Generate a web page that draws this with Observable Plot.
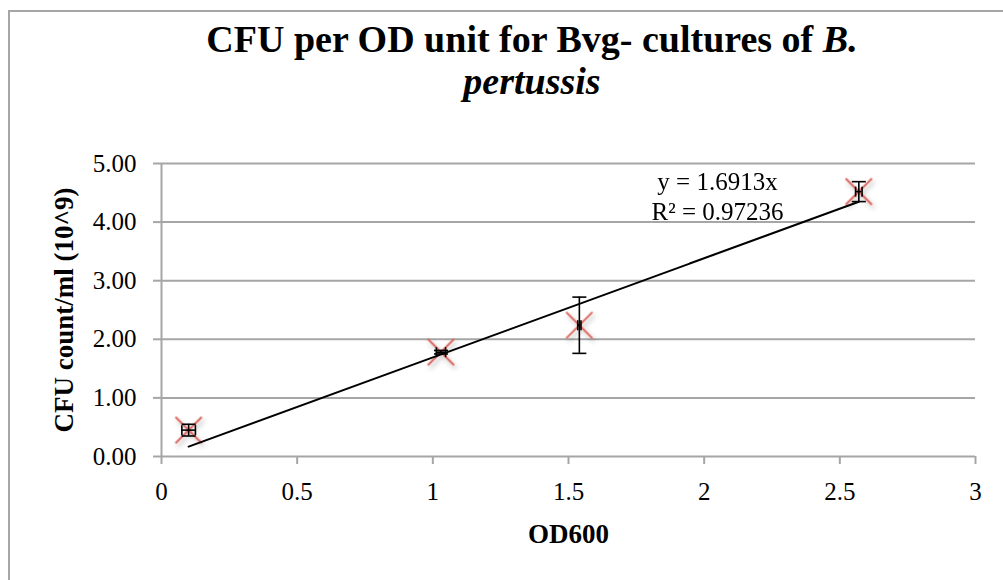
<!DOCTYPE html>
<html><head><meta charset="utf-8">
<script src="https://cdn.jsdelivr.net/npm/d3@7"></script>
<script src="https://cdn.jsdelivr.net/npm/@observablehq/plot@0.6"></script>
<style>
body{margin:0;background:#fff;overflow:hidden}
#wrap{position:relative;width:1003px;height:580px;overflow:hidden;font-family:"Liberation Serif",serif;background:#fff}
#frame{position:absolute;left:8px;top:10px;width:1100px;height:700px;border-left:2px solid #a6a6a6;border-top:2px solid #a6a6a6}
#title{position:absolute;left:0;top:18px;width:1064px;text-align:center;font-weight:bold;font-size:38px;line-height:42px;color:#000}
#chart{position:absolute;left:0;top:0}
</style></head><body>
<div id="wrap"><div id="frame"></div><div id="chart"></div><div id="title">CFU per OD unit for Bvg- cultures of <i>B.</i><br><i>pertussis</i></div></div>
<script>
// Data
const od600   = [0.10, 1.03, 1.54, 2.57];
const cfu     = [0.45, 1.78, 2.24, 4.52];
const cfuErr  = [0.10, 0.03, 0.48, 0.17];
const odErr   = [0.025, 0.017, 0.006, 0.012];
const xTicks  = [0, 0.5, 1, 1.5, 2, 2.5, 3];
const yTicks  = [0, 1, 2, 3, 4, 5];
const trendSlope = 1.6913;
const trendR2 = 0.97236;
const xLabel = "OD600";
const yLabel = "CFU count/ml (10^9)";

const data = od600.map((x, i) => ({x, y: cfu[i], ey: cfuErr[i], ex: odErr[i]}));
const trend = [d3.min(od600), d3.max(od600)].map(x => ({x, y: trendSlope * x}));

const hCap = {draw(ctx, size){const r = Math.sqrt(size/Math.PI); ctx.moveTo(-r,0); ctx.lineTo(r,0);}};
const vCap = {draw(ctx, size){const r = Math.sqrt(size/Math.PI); ctx.moveTo(0,-r); ctx.lineTo(0,r);}};
const GRAY = "#a6a6a6", RED = "#d9655e";

const chart = Plot.plot({
  width: 1003, height: 580,
  marginLeft: 161, marginRight: 28, marginTop: 163, marginBottom: 124,
  style: {fontFamily: "Liberation Serif", fontSize: "25px", color: "black", background: "transparent"},
  x: {domain: [0, 3]},
  y: {domain: [0, 5]},
  marks: [
    Plot.gridY(yTicks, {stroke: GRAY, strokeOpacity: 1, strokeWidth: 2}),
    Plot.ruleX([0], {stroke: GRAY, strokeWidth: 2}),
    Plot.axisY(yTicks, {tickFormat: d => d.toFixed(2), tickSize: 8, tickPadding: 17, stroke: GRAY, strokeWidth: 2, fill: "black", fontSize: 25, label: null}),
    Plot.axisX(xTicks, {tickFormat: d => String(d), tickSize: 8, tickPadding: 18, stroke: GRAY, strokeWidth: 2, fill: "black", fontSize: 25, label: null}),
    Plot.dot(data, {x: "x", y: "y", symbol: "times", r: 12, stroke: RED, strokeWidth: 2, fill: "none"}),
    Plot.ruleX(data, {x: "x", y1: d => d.y - d.ey, y2: d => d.y + d.ey, stroke: "black", strokeWidth: 1.6}),
    Plot.dot(data, {x: "x", y: d => d.y - d.ey, symbol: hCap, r: 7, stroke: "black", strokeWidth: 1.6, fill: "none"}),
    Plot.dot(data, {x: "x", y: d => d.y + d.ey, symbol: hCap, r: 7, stroke: "black", strokeWidth: 1.6, fill: "none"}),
    Plot.ruleY(data, {y: "y", x1: d => d.x - d.ex, x2: d => d.x + d.ex, stroke: "black", strokeWidth: 1.6}),
    Plot.dot(data, {x: d => d.x - d.ex, y: "y", symbol: vCap, r: 5, stroke: "black", strokeWidth: 1.6, fill: "none"}),
    Plot.dot(data, {x: d => d.x + d.ex, y: "y", symbol: vCap, r: 5, stroke: "black", strokeWidth: 1.6, fill: "none"}),
    Plot.line(trend, {x: "x", y: "y", stroke: "black", strokeWidth: 2}),
    Plot.text([`y = ${trendSlope}x\nR² = ${trendR2}`], {text: d => d, frameAnchor: "top-left", dx: 556, dy: 5, textAnchor: "middle", lineAnchor: "top", lineHeight: 1.2, fontSize: 25, fill: "black"}),
    Plot.text([xLabel], {text: d => d, frameAnchor: "bottom", dy: 67, lineAnchor: "top", fontSize: 27, fontWeight: "bold", fill: "black"}),
    Plot.text([yLabel], {text: d => d, frameAnchor: "left", dx: -89, rotate: -90, textAnchor: "middle", lineAnchor: "bottom", fontSize: 27, fontWeight: "bold", fill: "black"})
  ]
});
document.getElementById("chart").appendChild(chart);

// soft shadow under the markers
const svg = d3.select(chart);
const defs = svg.insert("defs", ":first-child");
defs.append("filter").attr("id", "sh").attr("x", "-50%").attr("y", "-50%").attr("width", "200%").attr("height", "200%")
  .append("feDropShadow").attr("dx", 2).attr("dy", 3).attr("stdDeviation", 2.5).attr("flood-color", "#000").attr("flood-opacity", 0.3);
svg.selectAll(`g[stroke="${RED}"]`).attr("filter", "url(#sh)");
</script>
</body></html>
